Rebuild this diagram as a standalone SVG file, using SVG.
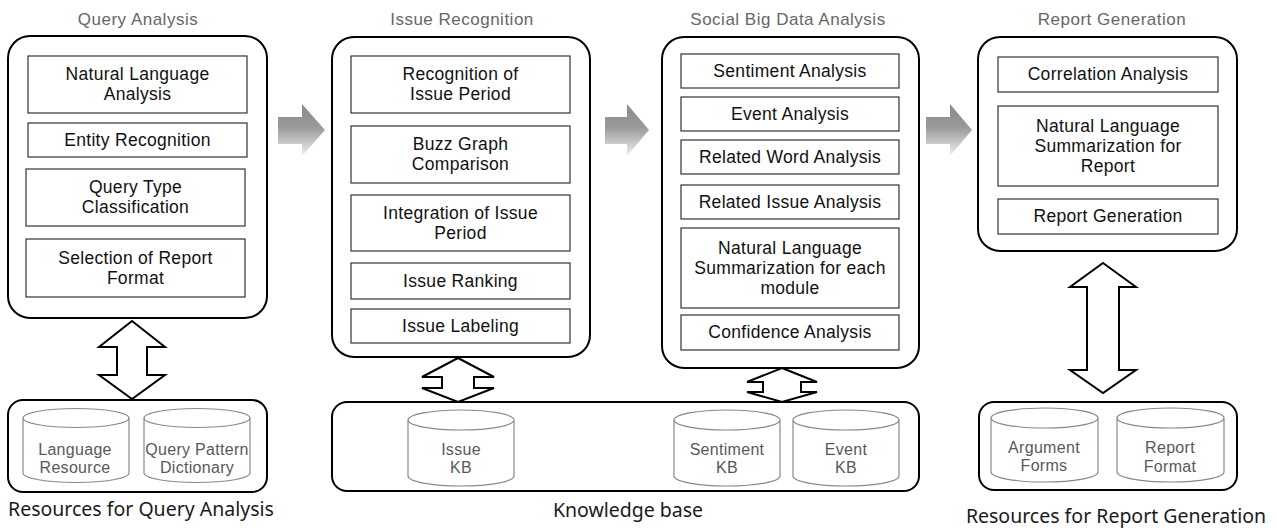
<svg xmlns="http://www.w3.org/2000/svg" width="1277" height="530" viewBox="0 0 1277 530">
<defs>
<linearGradient id="gr" x1="0" y1="0" x2="0" y2="1">
<stop offset="0" stop-color="#8a8a8a"/>
<stop offset="0.45" stop-color="#9a9a9a"/>
<stop offset="1" stop-color="#f0f0f0"/>
</linearGradient>
<style>
.outer{fill:#fff;stroke:#000;stroke-width:2}
.inner{fill:#fff;stroke:#333;stroke-width:1.2}
.res{fill:#fff;stroke:#000;stroke-width:2}
.cyl{fill:#fff;stroke:#8a8a8a;stroke-width:1.2}
.dbl{fill:#fff;stroke:#000;stroke-width:2;stroke-linejoin:miter}
.flow{fill:url(#gr);stroke:none}
.title{font-family:"Liberation Sans",Arial,sans-serif;font-size:17px;letter-spacing:0.5px;fill:#666;text-anchor:middle}
.t{font-family:"Liberation Sans",Arial,sans-serif;font-size:17.5px;letter-spacing:0.3px;fill:#111;text-anchor:middle}
.ct{font-family:"Liberation Sans",Arial,sans-serif;font-size:16px;letter-spacing:0.3px;fill:#595959;text-anchor:middle}
.lbl{font-family:"Noto Sans","Noto Sans CJK KR",sans-serif;font-size:19.5px;fill:#1a1a1a}
</style>
</defs>

<g id="query-analysis">
<text class="title" x="138" y="25">Query Analysis</text>
<rect class="outer" x="8" y="36" width="259" height="282" rx="22"/>
<rect class="inner" x="28" y="56" width="219" height="57"/>
<text class="t" x="137.5" y="80">Natural Language</text>
<text class="t" x="137.5" y="100">Analysis</text>
<rect class="inner" x="28" y="123" width="219" height="34"/>
<text class="t" x="137.5" y="146">Entity Recognition</text>
<rect class="inner" x="26" y="169" width="219" height="57"/>
<text class="t" x="135.5" y="193">Query Type</text>
<text class="t" x="135.5" y="213">Classification</text>
<rect class="inner" x="26" y="239" width="219" height="58"/>
<text class="t" x="135.5" y="264">Selection of Report</text>
<text class="t" x="135.5" y="284">Format</text>
</g>

<g id="issue-recognition">
<text class="title" x="462" y="25">Issue Recognition</text>
<rect class="outer" x="332" y="37" width="258" height="320" rx="22"/>
<rect class="inner" x="351" y="56" width="219" height="57"/>
<text class="t" x="460.5" y="80">Recognition of</text>
<text class="t" x="460.5" y="100">Issue Period</text>
<rect class="inner" x="351" y="126" width="219" height="57"/>
<text class="t" x="460.5" y="150">Buzz Graph</text>
<text class="t" x="460.5" y="170">Comparison</text>
<rect class="inner" x="351" y="195" width="219" height="56"/>
<text class="t" x="460.5" y="219">Integration of Issue</text>
<text class="t" x="460.5" y="239">Period</text>
<rect class="inner" x="351" y="263" width="219" height="36"/>
<text class="t" x="460.5" y="287">Issue Ranking</text>
<rect class="inner" x="351" y="309" width="219" height="34"/>
<text class="t" x="460.5" y="332">Issue Labeling</text>
</g>

<g id="social-big-data-analysis">
<text class="title" x="788" y="25">Social Big Data Analysis</text>
<rect class="outer" x="662" y="37" width="257" height="331" rx="22"/>
<rect class="inner" x="681" y="54" width="218" height="34"/>
<text class="t" x="790" y="77">Sentiment Analysis</text>
<rect class="inner" x="681" y="97" width="218" height="34"/>
<text class="t" x="790" y="120">Event Analysis</text>
<rect class="inner" x="681" y="140" width="218" height="34"/>
<text class="t" x="790" y="163">Related Word Analysis</text>
<rect class="inner" x="681" y="185" width="218" height="34"/>
<text class="t" x="790" y="208">Related Issue Analysis</text>
<rect class="inner" x="681" y="228" width="218" height="80"/>
<text class="t" x="790" y="254">Natural Language</text>
<text class="t" x="790" y="274">Summarization for each</text>
<text class="t" x="790" y="294">module</text>
<rect class="inner" x="681" y="315" width="218" height="35"/>
<text class="t" x="790" y="338">Confidence Analysis</text>
</g>

<g id="report-generation">
<text class="title" x="1112" y="25">Report Generation</text>
<rect class="outer" x="978" y="37" width="259" height="214" rx="22"/>
<rect class="inner" x="998" y="57" width="220" height="35"/>
<text class="t" x="1108" y="80">Correlation Analysis</text>
<rect class="inner" x="998" y="106" width="220" height="80"/>
<text class="t" x="1108" y="132">Natural Language</text>
<text class="t" x="1108" y="152">Summarization for</text>
<text class="t" x="1108" y="172">Report</text>
<rect class="inner" x="998" y="199" width="220" height="35"/>
<text class="t" x="1108" y="222">Report Generation</text>
</g>

<g id="resources-query-analysis">
<rect class="res" x="8" y="400" width="259" height="92" rx="15"/>
<path class="cyl" d="M23,418 A53,9.5 0 0 1 129,418 V473 A53,9.5 0 0 1 23,473 Z M23,418 A53,9.5 0 0 0 129,418"/>
<text class="ct" x="75" y="455">Language</text>
<text class="ct" x="75" y="473">Resource</text>
<path class="cyl" d="M144,418 A53,9.5 0 0 1 250,418 V473 A53,9.5 0 0 1 144,473 Z M144,418 A53,9.5 0 0 0 250,418"/>
<text class="ct" x="197" y="455">Query Pattern</text>
<text class="ct" x="197" y="473">Dictionary</text>
<text class="lbl" x="8" y="516">Resources for Query Analysis</text>
</g>

<g id="knowledge-base">
<rect class="res" x="332" y="402" width="587" height="89" rx="15"/>
<path class="cyl" d="M408,420 A53,10 0 0 1 514,420 V476 A53,10 0 0 1 408,476 Z M408,420 A53,10 0 0 0 514,420"/>
<text class="ct" x="461" y="455">Issue</text>
<text class="ct" x="461" y="473">KB</text>
<path class="cyl" d="M674,420 A53,10 0 0 1 780,420 V476 A53,10 0 0 1 674,476 Z M674,420 A53,10 0 0 0 780,420"/>
<text class="ct" x="727" y="455">Sentiment</text>
<text class="ct" x="727" y="473">KB</text>
<path class="cyl" d="M793,420 A53,10 0 0 1 899,420 V476 A53,10 0 0 1 793,476 Z M793,420 A53,10 0 0 0 899,420"/>
<text class="ct" x="846" y="455">Event</text>
<text class="ct" x="846" y="473">KB</text>
<text class="lbl" x="628" y="517" text-anchor="middle">Knowledge base</text>
</g>

<g id="resources-report-generation">
<rect class="res" x="979" y="402" width="258" height="88" rx="15"/>
<path class="cyl" d="M991,418 A53.5,10 0 0 1 1098,418 V472 A53.5,10 0 0 1 991,472 Z M991,418 A53.5,10 0 0 0 1098,418"/>
<text class="ct" x="1044" y="453">Argument</text>
<text class="ct" x="1044" y="471">Forms</text>
<path class="cyl" d="M1117,418 A53.5,10 0 0 1 1224,418 V472 A53.5,10 0 0 1 1117,472 Z M1117,418 A53.5,10 0 0 0 1224,418"/>
<text class="ct" x="1170" y="453">Report</text>
<text class="ct" x="1170" y="472">Format</text>
<text class="lbl" x="1116" y="523" text-anchor="middle">Resources for Report Generation</text>
</g>

<g id="connectors">
<path class="flow" d="M278,117 H302 V104 L325,130 L302,156 V144 H278 Z"/>
<path class="flow" d="M605,117 H627 V104 L649,130 L627,156 V144 H605 Z"/>
<path class="flow" d="M926,117 H950 V104 L972,130 L950,156 V144 H926 Z"/>
<path class="dbl" d="M132,321 L165,347 H147 V375 H165 L132,399 L99,375 H117 V347 H99 Z"/>
<path class="dbl" d="M458,358 L494,377 H474 V388 H494 L458,402 L422,388 H442 V377 H422 Z"/>
<path class="dbl" d="M782,368 L817,382 H801 V392 H817 L782,402 L747,392 H763 V382 H747 Z"/>
<path class="dbl" d="M1103,263 L1136,287 H1119 V370 H1136 L1103,393 L1070,370 H1087 V287 H1070 Z"/>
</g>
</svg>
